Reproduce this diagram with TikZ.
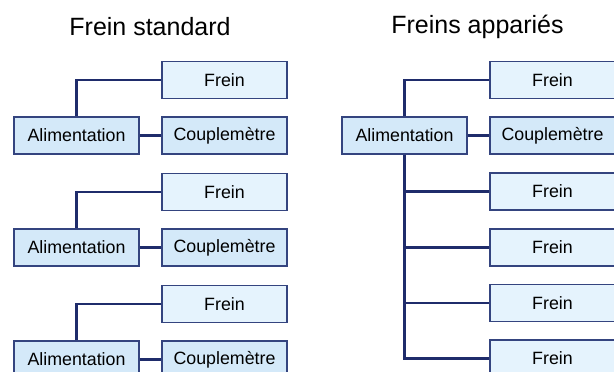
\documentclass[tikz,border=0pt]{standalone}
\usepackage{fontspec}
\setmainfont{Liberation Sans}
\definecolor{boxline}{HTML}{34447F}
\definecolor{conn}{HTML}{1F2C6B}
\definecolor{fillA}{HTML}{D4E9F9}
\definecolor{fillF}{HTML}{E5F3FD}
\begin{document}
\begin{tikzpicture}[x=1pt,y=-1pt,
  boxbase/.style={draw=boxline,line width=1.2pt,rectangle,minimum width=125pt,minimum height=37pt,inner sep=0pt,font=\fontsize{17.8}{20}\selectfont},
  boxA/.style={boxbase,fill=fillA},
  boxF/.style={boxbase,fill=fillF},
  wire/.style={draw=conn,line width=2.6pt},
  title/.style={font=\fontsize{25}{28}\selectfont,inner sep=0pt}]
\clip (0,0) rectangle (614,372);
\fill[white] (0,0) rectangle (614,372);
\node[title] (t1) at (150,27) {Frein standard};
\node[title] (t2) at (477.5,27) {Freins appariés};
% left groups
\foreach \g/\dy in {1/0,2/112,3/224}{
  \node[boxF] (f\g) at (224.5,80+\dy) {Frein};
  \node[boxA] (a\g) at (76.5,135.5+\dy) {Alimentation};
  \node[boxA] (c\g) at (224.5,135.5+\dy) {Couplemètre};
  \draw[wire] (a\g.north) |- (f\g.west);
  \draw[wire] (a\g.east) -- (c\g.west);
}
% right group
\node[boxA] (ra) at (404.5,135.5) {Alimentation};
\node[boxF] (rf1) at (552.5,80) {Frein};
\node[boxA] (rc) at (552.5,135.5) {Couplemètre};
\node[boxF] (rf2) at (552.5,191.5) {Frein};
\node[boxF] (rf3) at (552.5,247.5) {Frein};
\node[boxF] (rf4) at (552.5,303) {Frein};
\node[boxF] (rf5) at (552.5,358.5) {Frein};
\draw[wire] (ra.north) |- (rf1.west);
\draw[wire] (ra.east) -- (rc.west);
\foreach \i in {2,3,4,5}{
  \draw[wire] (ra.south) |- (rf\i.west);
}
\end{tikzpicture}
\end{document}
